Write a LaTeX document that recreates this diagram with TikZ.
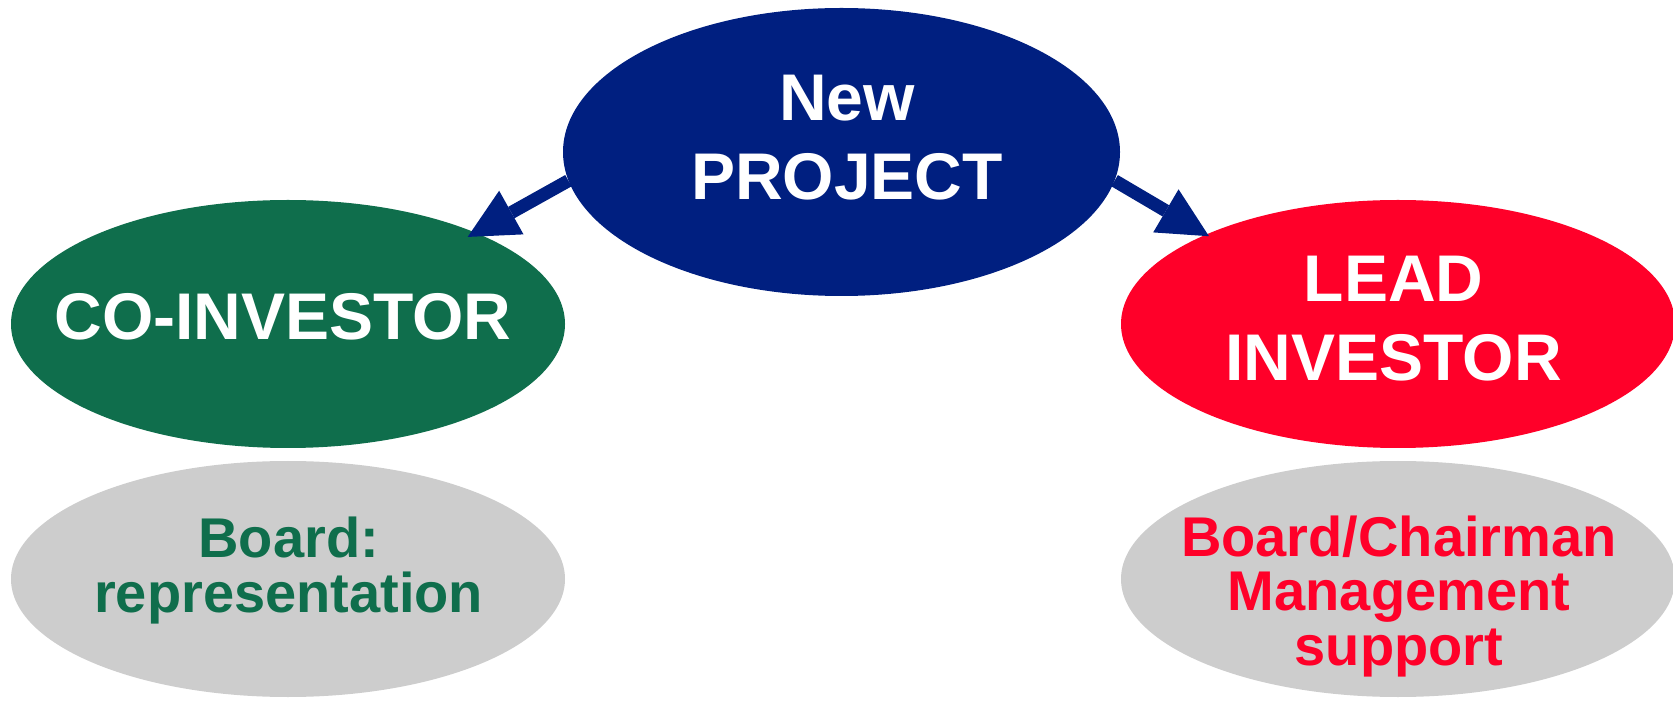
\documentclass[tikz,border=0pt]{standalone}
\usepackage{fontspec}
\setmainfont{Liberation Sans}
\usetikzlibrary{shapes.geometric,arrows.meta}
\definecolor{pblue}{HTML}{001F80}
\definecolor{pgreen}{HTML}{0F6E4C}
\definecolor{pred}{HTML}{FF0029}
\definecolor{pgrey}{HTML}{CDCDCD}
\begin{document}
\begin{tikzpicture}[x=1pt,y=1pt,
  blob/.style={ellipse, draw=none, inner sep=0pt},
  bigtxt/.style={font=\fontsize{66}{79}\selectfont\bfseries, text=white, align=center, inner sep=0pt, anchor=base},
  smalltxt/.style={font=\fontsize{56}{54.5}\selectfont\bfseries, align=center, inner sep=0pt, anchor=base},
  arr/.style={draw=pblue, line width=13pt, -{Triangle[length=50pt,width=50pt,line width=0pt]}}]
\useasboundingbox (0,0) rectangle (1673,702);
\node[blob, fill=pgrey, minimum width=554pt, minimum height=236pt] (bl) at (288,123) {};
\node[blob, fill=pgrey, minimum width=554pt, minimum height=236pt] (br) at (1398,123) {};
\node[blob, fill=pgreen, minimum width=554pt, minimum height=248pt] (co) at (288,378) {};
\node[blob, fill=pred, minimum width=554pt, minimum height=248pt] (lead) at (1398,378) {};
\node[blob, fill=pblue, minimum width=557pt, minimum height=288pt] (prj) at (841.5,550) {};
\draw[arr, shorten >=-9pt] (prj.186.6) -- (co.26);
\draw[arr, shorten >=-3.5pt] (prj.354.1) -- (lead.155.6);
\node[bigtxt] (prjt) at (847,502.7) {New\\PROJECT};
\node[bigtxt] (cot) at (283,362.7) {CO-INVESTOR};
\node[bigtxt] (leadt) at (1393.7,321.3) {LEAD\\INVESTOR};
\node[smalltxt, text=pgreen] (blt) at (288.7,90) {Board:\\representation};
\node[smalltxt, text=pred] (brt) at (1399,37) {Board/Chairman\\Management\\support};
\end{tikzpicture}
\end{document}
